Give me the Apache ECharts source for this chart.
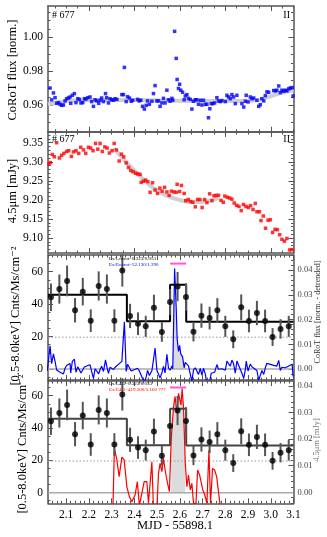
<!DOCTYPE html>
<html>
<head>
<meta charset="utf-8">
<title>#677 CoRoT / 4.5um / X-ray</title>
<script src="https://cdn.jsdelivr.net/npm/echarts@6/dist/echarts.min.js"></script>
<style>
  html, body { margin: 0; padding: 0; background: #fff; }
  #chart { width: 327px; height: 537px; }
</style>
</head>
<body>
<div id="chart"></div>
<script>
// time axis: MJD - 55898.1
const xMin = 2.02
const xMax = 3.1

// panel 1: CoRoT flux [norm.]
const corotTime = [
  2.017, 2.029, 2.036, 2.044, 2.051, 2.058, 2.066, 2.073, 2.080, 2.088,
  2.095, 2.102, 2.110, 2.117, 2.120, 2.127, 2.136, 2.143, 2.151, 2.158,
  2.165, 2.173, 2.180, 2.187, 2.195, 2.205, 2.212, 2.220, 2.227, 2.234,
  2.243, 2.249, 2.256, 2.264, 2.273, 2.278, 2.286, 2.293, 2.300, 2.308,
  2.315, 2.323, 2.345, 2.352, 2.356, 2.364, 2.370, 2.378, 2.386, 2.393,
  2.414, 2.421, 2.428, 2.436, 2.444, 2.452, 2.458, 2.466, 2.477, 2.484,
  2.491, 2.499, 2.506, 2.513, 2.521, 2.528, 2.535, 2.543, 2.550, 2.557,
  2.565, 2.569, 2.577, 2.584, 2.588, 2.594, 2.599, 2.604, 2.612, 2.619,
  2.624, 2.631, 2.638, 2.646, 2.653, 2.660, 2.668, 2.675, 2.682, 2.690,
  2.697, 2.704, 2.712, 2.719, 2.726, 2.732, 2.738, 2.745, 2.753, 2.763,
  2.770, 2.778, 2.785, 2.800, 2.807, 2.814, 2.822, 2.829, 2.836, 2.844,
  2.851, 2.873, 2.881, 2.888, 2.892, 2.900, 2.910, 2.917, 2.925, 2.939,
  2.947, 2.954, 2.961, 2.969, 2.976, 2.983, 2.991, 3.013, 3.020, 3.027,
  3.035, 3.042, 3.049, 3.057, 3.064, 3.071, 3.079, 3.086, 3.094, 3.098
]
const corotFlux = [
  0.9598, 0.9702, 0.9632, 0.9673, 0.9645, 0.9612, 0.9616, 0.9606, 0.9600, 0.9602,
  0.9626, 0.9639, 0.9643, 0.9649, 0.9612, 0.9659, 0.9669, 0.9616, 0.9639, 0.9635,
  0.9614, 0.9616, 0.9639, 0.9637, 0.9645, 0.9649, 0.9622, 0.9594, 0.9633, 0.9626,
  0.9612, 0.9630, 0.9643, 0.9622, 0.9669, 0.9645, 0.9614, 0.9639, 0.9633, 0.9630,
  0.9639, 0.9635, 0.9663, 0.9663, 0.9823, 0.9622, 0.9651, 0.9643, 0.9624, 0.9630,
  0.9635, 0.9626, 0.9630, 0.9594, 0.9578, 0.9600, 0.9626, 0.9606, 0.9624, 0.9669,
  0.9716, 0.9626, 0.9626, 0.9594, 0.9614, 0.9641, 0.9614, 0.9689, 0.9633, 0.9624,
  0.9641, 0.9630, 1.0035, 0.9876, 0.9752, 0.9699, 0.9724, 0.9689, 0.9677, 0.9633,
  0.9655, 0.9663, 0.9641, 0.9635, 0.9578, 0.9624, 0.9633, 0.9633, 0.9606, 0.9630,
  0.9602, 0.9630, 0.9606, 0.9606, 0.9527, 0.9580, 0.9610, 0.9610, 0.9614, 0.9645,
  0.9626, 0.9622, 0.9628, 0.9622, 0.9659, 0.9649, 0.9639, 0.9663, 0.9649, 0.9610,
  0.9659, 0.9610, 0.9590, 0.9624, 0.9659, 0.9620, 0.9649, 0.9639, 0.9643, 0.9630,
  0.9594, 0.9604, 0.9639, 0.9626, 0.9657, 0.9679, 0.9677, 0.9687, 0.9685, 0.9689,
  0.9714, 0.9675, 0.9689, 0.9683, 0.9689, 0.9685, 0.9697, 0.9702, 0.9704, 0.9655
]
const corotTrendTime = [2.02, 2.08, 2.14, 2.25, 2.40, 2.55, 2.70, 2.85, 2.93, 2.98, 3.04, 3.10]
const corotTrendFlux = [0.9606, 0.9620, 0.9629, 0.9632, 0.9632, 0.9628, 0.9626, 0.9626, 0.9628, 0.9645, 0.9671, 0.9688]

// panel 3 (right axis): CoRoT flux [norm. - detrended]
const corotDetrended = [
  -0.0007, 0.0094, 0.0022, 0.0061, 0.0031, -0.0004, -0.0001, -0.0013, -0.0020, -0.0020,
  0.0003, 0.0014, 0.0017, 0.0022, -0.0016, 0.0031, 0.0040, -0.0013, 0.0009, 0.0005,
  -0.0016, -0.0015, 0.0008, 0.0006, 0.0014, 0.0017, -0.0010, -0.0038, 0.0001, -0.0006,
  -0.0020, -0.0002, 0.0011, -0.0010, 0.0037, 0.0013, -0.0018, 0.0007, 0.0001, -0.0002,
  0.0007, 0.0003, 0.0031, 0.0031, 0.0191, -0.0010, 0.0019, 0.0011, -0.0008, -0.0002,
  0.0003, -0.0006, -0.0002, -0.0038, -0.0054, -0.0032, -0.0006, -0.0026, -0.0007, 0.0038,
  0.0085, -0.0005, -0.0004, -0.0036, -0.0016, 0.0011, -0.0016, 0.0059, 0.0004, -0.0005,
  0.0012, 0.0001, 0.0407, 0.0248, 0.0124, 0.0071, 0.0096, 0.0061, 0.0049, 0.0005,
  0.0027, 0.0035, 0.0013, 0.0007, -0.0050, -0.0004, 0.0005, 0.0005, -0.0022, 0.0002,
  -0.0025, 0.0003, -0.0021, -0.0021, -0.0100, -0.0047, -0.0017, -0.0017, -0.0013, 0.0018,
  -0.0001, -0.0005, 0.0001, -0.0005, 0.0032, 0.0022, 0.0012, 0.0036, 0.0022, -0.0017,
  0.0032, -0.0017, -0.0037, -0.0003, 0.0032, -0.0008, 0.0020, 0.0009, 0.0011, -0.0006,
  -0.0045, -0.0038, -0.0006, -0.0022, 0.0005, 0.0023, 0.0016, 0.0015, 0.0010, 0.0012,
  0.0035, -0.0006, 0.0007, 0.0000, 0.0005, 0.0001, 0.0012, 0.0017, 0.0019, -0.0030
]

// panel 2: 4.5um [mJy]
const irTime = [
  2.024, 2.030, 2.039, 2.048, 2.058, 2.070, 2.080, 2.090, 2.102, 2.111,
  2.123, 2.132, 2.143, 2.155, 2.164, 2.176, 2.186, 2.198, 2.208, 2.218,
  2.229, 2.239, 2.249, 2.259, 2.270, 2.280, 2.290, 2.302, 2.311, 2.321,
  2.333, 2.343, 2.353, 2.364, 2.374, 2.384, 2.394, 2.405, 2.415, 2.425,
  2.430, 2.440, 2.449, 2.459, 2.469, 2.480, 2.491, 2.502, 2.512, 2.522,
  2.533, 2.543, 2.553, 2.563, 2.574, 2.584, 2.588, 2.599, 2.607, 2.619,
  2.626, 2.637, 2.647, 2.657, 2.668, 2.678, 2.688, 2.698, 2.709, 2.719,
  2.731, 2.741, 2.750, 2.760, 2.770, 2.781, 2.791, 2.798, 2.809, 2.819,
  2.829, 2.839, 2.850, 2.860, 2.870, 2.880, 2.891, 2.901, 2.911, 2.922,
  2.932, 2.939, 2.950, 2.957, 2.967, 2.977, 2.988, 2.998, 3.008, 3.019,
  3.029, 3.039, 3.049, 3.060, 3.071, 3.083, 3.093
]
const irFlux = [
  9.294, 9.298, 9.319, 9.313, 9.350, 9.310, 9.317, 9.322, 9.327, 9.329,
  9.314, 9.326, 9.329, 9.322, 9.338, 9.331, 9.322, 9.338, 9.336, 9.329,
  9.348, 9.333, 9.348, 9.327, 9.339, 9.336, 9.323, 9.329, 9.348, 9.331,
  9.302, 9.320, 9.313, 9.297, 9.285, 9.277, 9.274, 9.270, 9.268, 9.267,
  9.246, 9.249, 9.252, 9.248, 9.220, 9.245, 9.226, 9.217, 9.231, 9.223,
  9.233, 9.221, 9.212, 9.223, 9.221, 9.220, 9.241, 9.222, 9.238, 9.217,
  9.198, 9.201, 9.196, 9.194, 9.182, 9.201, 9.201, 9.180, 9.201, 9.193,
  9.216, 9.198, 9.211, 9.212, 9.212, 9.199, 9.194, 9.210, 9.207, 9.205,
  9.202, 9.192, 9.186, 9.183, 9.172, 9.188, 9.183, 9.180, 9.185, 9.175,
  9.191, 9.169, 9.169, 9.146, 9.158, 9.126, 9.147, 9.148, 9.115, 9.123,
  9.122, 9.109, 9.097, 9.092, 9.099, 9.069, 9.070
]
const irTrendTime = [2.31, 2.36, 2.42, 2.48, 2.54, 2.60, 2.66, 2.72, 2.77]
const irTrendFlux = [9.335, 9.302, 9.265, 9.233, 9.212, 9.200, 9.194, 9.197, 9.205]

// panel 4 (right axis): 4.5um minus trend [mJy]
const irDetTime = [
  2.305, 2.312, 2.323, 2.333, 2.345, 2.355, 2.367, 2.378, 2.389, 2.403,
  2.413, 2.422, 2.433, 2.443, 2.455, 2.462, 2.477, 2.484, 2.499, 2.506,
  2.513, 2.521, 2.528, 2.535, 2.546, 2.554, 2.562, 2.572, 2.579, 2.587,
  2.594, 2.605, 2.610, 2.616, 2.624, 2.631, 2.638, 2.646, 2.653, 2.660,
  2.671, 2.678, 2.687, 2.694, 2.701, 2.710, 2.719, 2.728, 2.735, 2.744,
  2.753, 2.762, 2.769, 2.778
]
const irDetFlux = [
  -0.0080, 0.0165, 0.0122, 0.0059, 0.0132, 0.0122, 0.0021, -0.0016, -0.0035, -0.0010,
  0.0040, -0.0048, -0.0004, 0.0040, 0.0040, -0.0040, 0.0115, -0.0060, -0.0060, 0.0071,
  0.0109, 0.0078, 0.0128, 0.0084, 0.0034, 0.0003, 0.0197, 0.0320, 0.0360, 0.0297,
  0.0372, 0.0328, 0.0390, 0.0320, 0.0109, 0.0021, 0.0065, 0.0009, 0.0034, -0.0041,
  -0.0041, 0.0084, 0.0065, 0.0071, 0.0009, -0.0010, -0.0041, 0.0159, -0.0041, 0.0090,
  0.0084, 0.0059, 0.0059, -0.0054
]

// panels 3 and 4: X-ray rate [0.5-8.0keV] Cnts/Ms/cm^-2
const xrayTime = [
  2.033, 2.070, 2.104, 2.139, 2.173, 2.208, 2.243, 2.279, 2.312, 2.347,
  2.381, 2.416, 2.450, 2.486, 2.521, 2.557, 2.590, 2.627, 2.660, 2.695,
  2.731, 2.765, 2.800, 2.835, 2.870, 2.904, 2.939, 2.975, 3.008, 3.043, 3.079
]
const xrayRate = [
  44.2, 49.3, 54.3, 36.2, 47.7, 29.8, 51.2, 49.3, 29.8, 60.8,
  32.7, 27.9, 26.3, 37.8, 22.8, 41.3, 50.8, 44.4, 23.0, 32.9,
  31.4, 36.2, 26.3, 18.3, 38.0, 29.6, 34.5, 29.6, 19.7, 24.7, 26.3
]
const xrayErr = [
  8.5, 9, 9.5, 7.5, 8.5, 7, 9, 9, 7, 10,
  7.5, 7, 6.5, 8, 6, 8, 9, 8.5, 6, 7.5,
  7, 7.5, 6.5, 5.5, 8, 7, 7.5, 7, 5.5, 6, 6.5
]
// bayesian blocks
const blockEdges = [2.02, 2.367, 2.557, 2.628, 3.1]
const blockRate = [45.8, 29.4, 52.0, 29.2]
const quiescentRate = 19.6
const flareWindow = [2.557, 2.628]
const flareMarkRate = 65

// tick labels
const xTicks = [2.1, 2.2, 2.3, 2.4, 2.5, 2.6, 2.7, 2.8, 2.9, 3.0, 3.1]
const xTicksWide = [2.2, 2.4, 2.6, 2.8, 3.0]
const corotTicks = [0.96, 0.98, 1.00]
const irTicks = [9.10, 9.15, 9.20, 9.25, 9.30, 9.35]
const rateTicks = [0, 20, 40, 60]
const detTicks = [0.00, 0.01, 0.02, 0.03, 0.04]

const FONT = '"Liberation Serif", "DejaVu Serif", serif'
const frame = '#555'

const range = (a, b, s) => {
  const out = []
  for (let v = a; v <= b + 1e-9; v += s) out.push(+v.toFixed(5))
  return out
}
const zip = (a, b) => a.map((v, i) => [v, b[i]])

const panels = [
  { top: 6, height: 125.7, y: [0.9445, 1.0184], yMajor: corotTicks, yMinor: range(0.945, 1.015, 0.005), digits: 2,
    xMajor: xTicksWide, xMinor: range(2.05, 3.1, 0.05) },
  { top: 132, height: 121, y: [9.061, 9.378], yMajor: irTicks, yMinor: range(9.07, 9.37, 0.01), digits: 2,
    xMajor: xTicksWide, xMinor: range(2.05, 3.1, 0.05) },
  { top: 255, height: 125, y: [-6.8, 70.3], yMajor: rateTicks, yMinor: range(-5, 70, 5), digits: 0,
    right: [-0.00445, 0.04615], rMajor: detTicks, rMinor: range(-0.004, 0.046, 0.002),
    xMajor: xTicks, xMinor: range(2.02, 3.1, 0.02) },
  { top: 381, height: 122.3, y: [-6.6, 69.1], yMajor: rateTicks, yMinor: range(-5, 65, 5), digits: 0,
    right: [-0.0041, 0.0418], rMajor: detTicks, rMinor: range(-0.004, 0.040, 0.002),
    xMajor: xTicks, xMinor: range(2.02, 3.1, 0.02) }
]

const mkAxis = (gi, pos, min, max, ticks, len, showLine, label) => ({
  type: 'value', gridIndex: gi, position: pos, min, max,
  axisLine: { show: showLine, onZero: false, lineStyle: { color: frame, width: 1.5 } },
  axisTick: { show: true, inside: true, length: len, customValues: ticks, lineStyle: { color: frame, width: 1 } },
  axisLabel: label ? {
    show: true, customValues: label.values, formatter: label.fmt, margin: label.margin,
    fontFamily: FONT, fontSize: label.size, color: label.color
  } : { show: false },
  splitLine: { show: false },
  minorTick: { show: false }
})

const grid = panels.map(p => ({ left: 48, width: 245.5, top: p.top, height: p.height, containLabel: false }))
const xAxis = []
const yAxis = []
panels.forEach((p, gi) => {
  const xLab = gi === 3 ? { values: xTicks, fmt: v => v.toFixed(1), size: 11.5, color: '#000', margin: 6 } : null
  xAxis.push(mkAxis(gi, 'bottom', xMin, xMax, p.xMajor, 5, true, xLab))
  xAxis.push(mkAxis(gi, 'bottom', xMin, xMax, p.xMinor, 2.5, false, null))
  xAxis.push(mkAxis(gi, 'top', xMin, xMax, p.xMajor, 5, true, null))
  xAxis.push(mkAxis(gi, 'top', xMin, xMax, p.xMinor, 2.5, false, null))

  const yLab = { values: p.yMajor, fmt: v => v.toFixed(p.digits), size: 11.5, color: '#000', margin: 5 }
  yAxis.push(mkAxis(gi, 'left', p.y[0], p.y[1], p.yMajor, 5, true, yLab))
  yAxis.push(mkAxis(gi, 'left', p.y[0], p.y[1], p.yMinor, 2.5, false, null))
  const r = p.right || p.y
  const rLab = p.right ? { values: p.rMajor, fmt: v => v.toFixed(2), size: 8.5, color: '#444', margin: 4 } : null
  yAxis.push(mkAxis(gi, 'right', r[0], r[1], p.rMajor || p.yMajor, 5, true, rLab))
  yAxis.push(mkAxis(gi, 'right', r[0], r[1], p.rMinor || p.yMinor, 2.5, false, null))
})

const X = gi => gi * 4
const YL = gi => gi * 4
const YR = gi => gi * 4 + 2

const line = (gi, yIdx, data, color, width, extra) => Object.assign({
  type: 'line', xAxisIndex: X(gi), yAxisIndex: yIdx, data,
  showSymbol: false, symbol: 'none', clip: true, silent: true,
  lineStyle: { color, width }
}, extra || {})

const inFlare = (t, v) => zip(t, v).filter(d => d[0] >= flareWindow[0] && d[0] <= flareWindow[1])

const xrayPanel = (gi, detTime, detFlux, detColor, stepColor) => [
  line(gi, YR(gi), inFlare(detTime, detFlux), '#ddd', 0, { areaStyle: { color: '#dcdcdc', opacity: 1 }, z: 1 }),
  line(gi, YL(gi), [[xMin, 0], [xMax, 0]], '#aaa', 1.5, { z: 2 }),
  line(gi, YL(gi), [[xMin, quiescentRate], [xMax, quiescentRate]], '#999', 1, {
    lineStyle: { color: '#999', width: 1, type: [1.5, 2] }, z: 2 }),
  line(gi, YR(gi), zip(detTime, detFlux), detColor, 1.2, { z: 3 }),
  line(gi, YL(gi), blockEdges.map((e, i) => [e, blockRate[Math.min(i, blockRate.length - 1)]]), stepColor, 2, { step: 'end', z: 4 }),
  {
    type: 'custom', xAxisIndex: X(gi), yAxisIndex: YL(gi), z: 5, silent: true,
    data: xrayTime.map((t, i) => [t, xrayRate[i], xrayErr[i]]),
    encode: { x: 0, y: 1 },
    renderItem: (params, api) => {
      const x = api.value(0), y = api.value(1), e = api.value(2)
      const a = api.coord([x, y - e]), b = api.coord([x, y + e])
      return { type: 'line', shape: { x1: a[0], y1: a[1], x2: b[0], y2: b[1] }, style: { stroke: '#555', lineWidth: 2 } }
    }
  },
  {
    type: 'scatter', xAxisIndex: X(gi), yAxisIndex: YL(gi), z: 6, silent: true,
    data: zip(xrayTime, xrayRate), symbol: 'circle', symbolSize: 6, itemStyle: { color: '#000' }
  },
  line(gi, YL(gi), flareWindow.map(t => [t, flareMarkRate]), '#ff55e6', 2, { z: 6 })
]

const series = [
  line(0, YL(0), zip(corotTrendTime, corotTrendFlux), '#cfcfcf', 4, { smooth: true, z: 1 }),
  {
    type: 'scatter', xAxisIndex: X(0), yAxisIndex: YL(0), silent: true, z: 2,
    data: zip(corotTime, corotFlux), symbol: 'rect', symbolSize: 3.5, itemStyle: { color: '#0000ff' }
  },
  line(1, YL(1), zip(irTrendTime, irTrendFlux), '#cfcfcf', 4, { smooth: true, z: 1 }),
  {
    type: 'scatter', xAxisIndex: X(1), yAxisIndex: YL(1), silent: true, z: 2,
    data: zip(irTime, irFlux), symbol: 'rect', symbolSize: 3.5, itemStyle: { color: '#ff0000' }
  },
  ...xrayPanel(2, corotTime, corotDetrended, '#0000ff', '#000'),
  ...xrayPanel(3, irDetTime, irDetFlux, '#ff0000', '#444')
]

const txt = (x, y, text, size, opts) => {
  const o = opts || {}
  return {
    type: 'text', x, y, rotation: o.rot || 0, z: 100, silent: true,
    style: {
      text, font: size + 'px ' + FONT, fill: o.color || '#000',
      textAlign: o.align || 'center', align: o.align || 'center',
      textVerticalAlign: 'middle', verticalAlign: 'middle'
    }
  }
}
const up = Math.PI / 2

const graphic = [
  txt(52, 15, '# 677', 10, { align: 'left' }),
  txt(290, 15, 'II', 10, { align: 'right' }),
  txt(52, 139, '# 677', 10, { align: 'left' }),
  txt(290, 139, 'II', 10, { align: 'right' }),
  txt(13, 70, 'CoRoT flux [norm.]', 12.5, { rot: up }),
  txt(13, 191, '4.5\u03bcm [mJy]', 12.5, { rot: up }),
  txt(16, 316, '[0.5-8.0keV] Cnts/Ms/cm\u207b\u00b2', 12.5, { rot: up }),
  txt(23, 444, '[0.5-8.0keV] Cnts/Ms/cm\u207b\u00b2', 12.5, { rot: up }),
  txt(318, 312, 'CoRoT flux [norm. - detrended]', 8, { rot: up, color: '#333' }),
  txt(317, 440, '4.5\u03bcm [mJy]', 8.5, { rot: up, color: '#777' }),
  txt(175, 526, 'MJD - 55898.1', 12.5),
  txt(109, 258.5, 'Lx/Lcorot=0.323/0.053', 5, { align: 'left' }),
  txt(109, 265, 'Ex/Ecorot=52.130/1.390', 5, { align: 'left', color: '#0000ff' }),
  txt(109, 383.5, 'Lx/L4.5=0.323/0.053', 5, { align: 'left' }),
  txt(109, 390, 'Ex/E4.5=419.200/5.160 777', 5, { align: 'left', color: '#ff0000' })
]

const chart = echarts.init(document.getElementById('chart'), null, { renderer: 'canvas' })
chart.setOption({
  backgroundColor: '#fff',
  animation: false,
  grid, xAxis, yAxis, series, graphic
})
</script>
</body>
</html>
